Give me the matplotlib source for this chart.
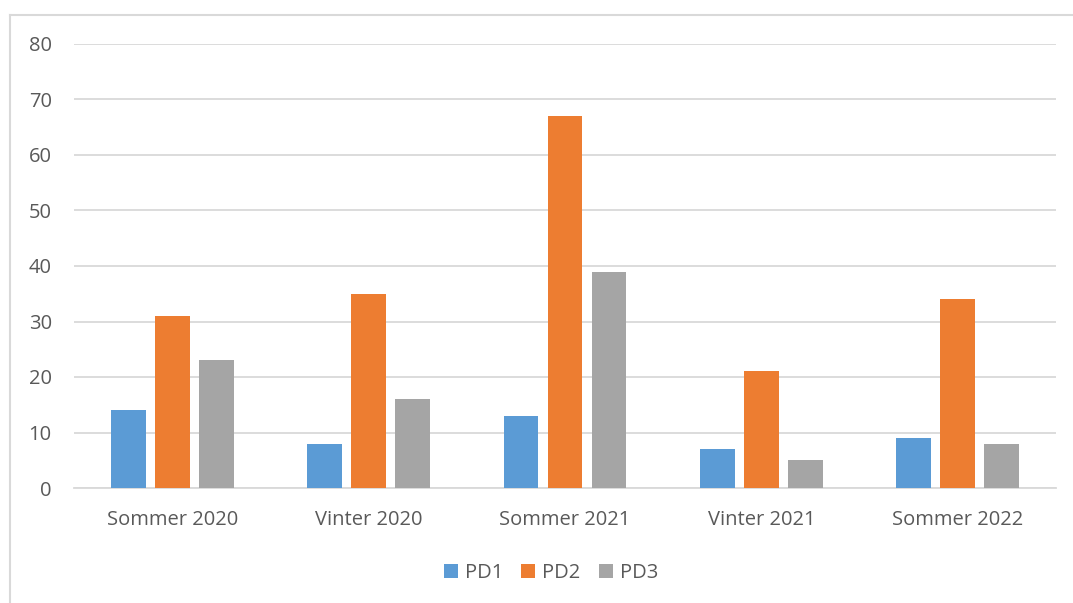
import numpy as np
import matplotlib
matplotlib.use("Agg")
import matplotlib.pyplot as plt
from matplotlib.lines import Line2D
from matplotlib.patches import Patch

# --- Data ---
categories = ["Sommer 2020", "Vinter 2020", "Sommer 2021", "Vinter 2021", "Sommer 2022"]
pd1 = [14, 8, 13, 7, 9]
pd2 = [31, 35, 67, 21, 34]
pd3 = [23, 16, 39, 5, 8]
series_names = ["PD1", "PD2", "PD3"]

colors = ["#5B9BD5", "#ED7D31", "#A5A5A5"]
text_col = "#595959"
grid_col = "#D9D9D9"

plt.rcParams["font.family"] = ["Open Sans", "DejaVu Sans"]

fig = plt.figure(figsize=(10.73, 6.03), dpi=100)
ax = fig.add_axes([74 / 1073, 1 - 488 / 603, (1056 - 74) / 1073, (488 - 44) / 603])

x = np.arange(len(categories))
width = 0.178
step = 0.224
for i, (vals, name) in enumerate(zip([pd1, pd2, pd3], series_names)):
    ax.bar(x + (i - 1) * step, vals, width, color=colors[i], label=name, zorder=3)

ax.set_xlim(-0.5, len(categories) - 0.5)
ax.set_ylim(0, 80)
ax.set_yticks(range(0, 81, 10))
ax.yaxis.grid(True, color=grid_col, linewidth=1.3, zorder=0)
ax.set_axisbelow(True)
for s in ["top", "right", "left"]:
    ax.spines[s].set_visible(False)
ax.spines["bottom"].set_color(grid_col)
ax.spines["bottom"].set_linewidth(1.3)
ax.set_xticks(x)
ax.set_xticklabels(categories)
ax.tick_params(axis="both", length=0, colors=text_col, labelsize=14.5)
ax.tick_params(axis="x", pad=16)
ax.tick_params(axis="y", pad=16)

# legend
handles = [Patch(facecolor=c, label=n) for c, n in zip(colors, series_names)]
fig.legend(handles=handles, loc="center", bbox_to_anchor=(551 / 1073, 1 - 573 / 603),
           ncol=3, frameon=False, fontsize=14.5, labelcolor=text_col,
           handlelength=0.7, handleheight=0.7, handletextpad=0.35, columnspacing=0.9)

# chart frame (left and top edges visible)
fig.add_artist(Line2D([10 / 1073, 10 / 1073], [0, 1 - 15 / 603], transform=fig.transFigure,
                      color=grid_col, linewidth=1.5))
fig.add_artist(Line2D([10 / 1073, 1], [1 - 15 / 603, 1 - 15 / 603], transform=fig.transFigure,
                      color=grid_col, linewidth=1.5))

fig.savefig("out.png", dpi=100)
